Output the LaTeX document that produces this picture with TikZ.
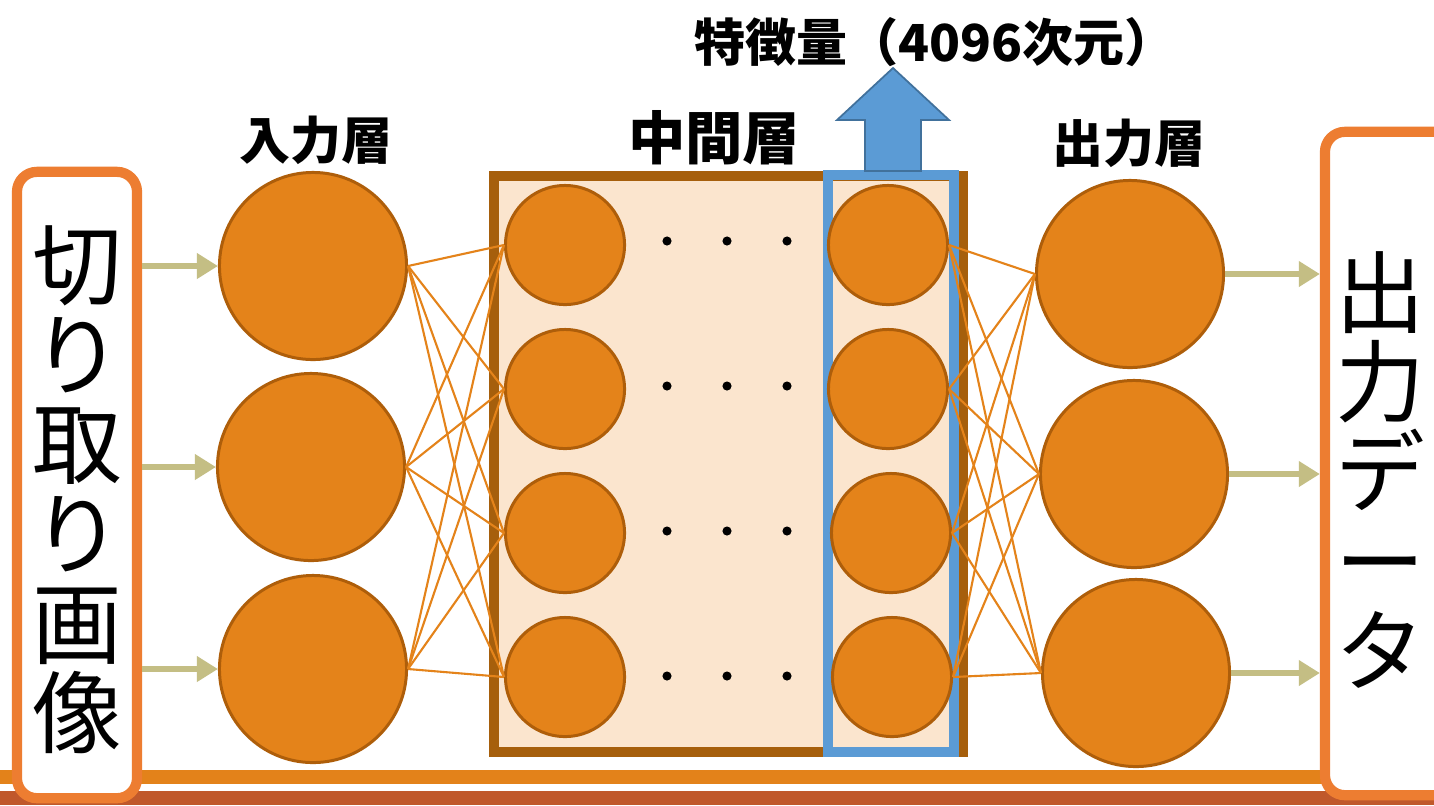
\documentclass[tikz,border=0pt]{standalone}
\usepackage{fontspec}
\newfontfamily\jp{Noto Sans CJK JP}
\usetikzlibrary{arrows.meta}
\definecolor{nodefill}{HTML}{E4831A}
\definecolor{nodedraw}{HTML}{AE5E0A}
\definecolor{peach}{HTML}{FBE5CE}
\definecolor{brownbox}{HTML}{A65F0C}
\definecolor{bluebox}{HTML}{5B9BD5}
\definecolor{bluedark}{HTML}{41719C}
\definecolor{orangebox}{HTML}{ED7D31}
\definecolor{khaki}{HTML}{C4BE84}
\definecolor{bandA}{HTML}{E3821A}
\definecolor{bandB}{HTML}{C0582B}
\begin{document}
\begin{tikzpicture}[x=0.01cm,y=-0.01cm,
  bignode/.style={circle, fill=nodefill, draw=nodedraw, line width=0.85pt, minimum size=1.87cm, inner sep=0pt},
  smallnode/.style={circle, fill=nodefill, draw=nodedraw, line width=0.85pt, minimum size=1.19cm, inner sep=0pt},
  conn/.style={draw=nodefill, line width=0.6pt},
  feed/.style={draw=khaki, line width=1.7pt, -{Triangle[length=6pt,width=7pt]}},
  dotnode/.style={circle, fill=black, inner sep=0pt, minimum size=2.6pt},
  lab/.style={font=\jp\bfseries\fontsize{14.5}{17}\selectfont, inner sep=0pt},
  sidebox/.style={draw=orangebox, fill=white, line width=2.9pt, rounded corners=0.2cm, inner sep=0pt},
  bigtext/.style={font=\jp\fontsize{25.5}{25.5}\selectfont, align=center, inner sep=0pt}
]
\clip (0,0) rectangle (1434,805);
\fill[white] (0,0) rectangle (1434,805);
% bottom bands
\fill[bandA] (0,770) rectangle (1434,784);
\fill[bandB] (0,791) rectangle (1434,805);

% side boxes
\node[sidebox, minimum width=1.2cm, minimum height=6.26cm] (src) at (77,485) {};
\node[bigtext] (srctxt) at (77,490) {切\\り\\取\\り\\画\\像};
\node[sidebox, minimum width=1.3cm, minimum height=6.63cm] (dst) at (1390,463.5) {};
\node[bigtext] (dsttxt) at (1380,470) {出\\力\\デ\\ー\\タ};

% middle container
\node[draw=brownbox, fill=peach, line width=2.9pt, minimum width=4.69cm, minimum height=5.76cm, inner sep=0pt] (mid) at (728.5,464) {};
\node[draw=bluebox, line width=2.9pt, minimum width=1.26cm, minimum height=5.77cm, inner sep=0pt] (feat) at (891,463.5) {};

% feature arrow
\draw[fill=bluebox, draw=bluedark, line width=0.5pt]
  (865,171) -- (865,120) -- (837,120) -- (893,68) -- (949,120) -- (921,120) -- (921,171) -- cycle;

% labels
\node[lab] (l1) at (316,140) {入力層};
\node[lab, font=\jp\bfseries\fontsize{16.3}{19}\selectfont] (l2) at (714,138) {中間層};
\node[lab] (l3) at (1129,143) {出力層};
\node[lab] (l4) at (935,42) {特徴量（4096次元）};

% input nodes
\node[bignode] (i1) at (313,266) {};
\node[bignode] (i2) at (311,467) {};
\node[bignode] (i3) at (313,669) {};
% middle nodes
\node[smallnode] (a1) at (565,245) {};
\node[smallnode] (a2) at (565,389) {};
\node[smallnode] (a3) at (565,533) {};
\node[smallnode] (a4) at (565,677) {};
\node[smallnode] (b1) at (888,245) {};
\node[smallnode] (b2) at (888,389) {};
\node[smallnode] (b3) at (891,533) {};
\node[smallnode] (b4) at (892,677) {};
% output nodes
\node[bignode] (o1) at (1130,274) {};
\node[bignode] (o2) at (1134,474) {};
\node[bignode] (o3) at (1136,673) {};

% dots
\foreach \r/\y in {1/241,2/386,3/531,4/676}{
  \foreach \c/\x in {1/667,2/727,3/787}{
    \node[dotnode] (d\r\c) at (\x,\y) {};
  }
}

% connections
\foreach \i in {1,2,3}{
  \foreach \j in {1,2,3,4}{
    \draw[conn] (i\i.east) -- (a\j.west);
    \draw[conn] (b\j.east) -- (o\i.west);
  }
}

% feed arrows
\foreach \i in {1,2,3}{
  \draw[feed] (src.east |- i\i.west) -- (i\i.west);
  \draw[feed] (o\i.east) -- (dst.west |- o\i.east);
}
\end{tikzpicture}
\end{document}
